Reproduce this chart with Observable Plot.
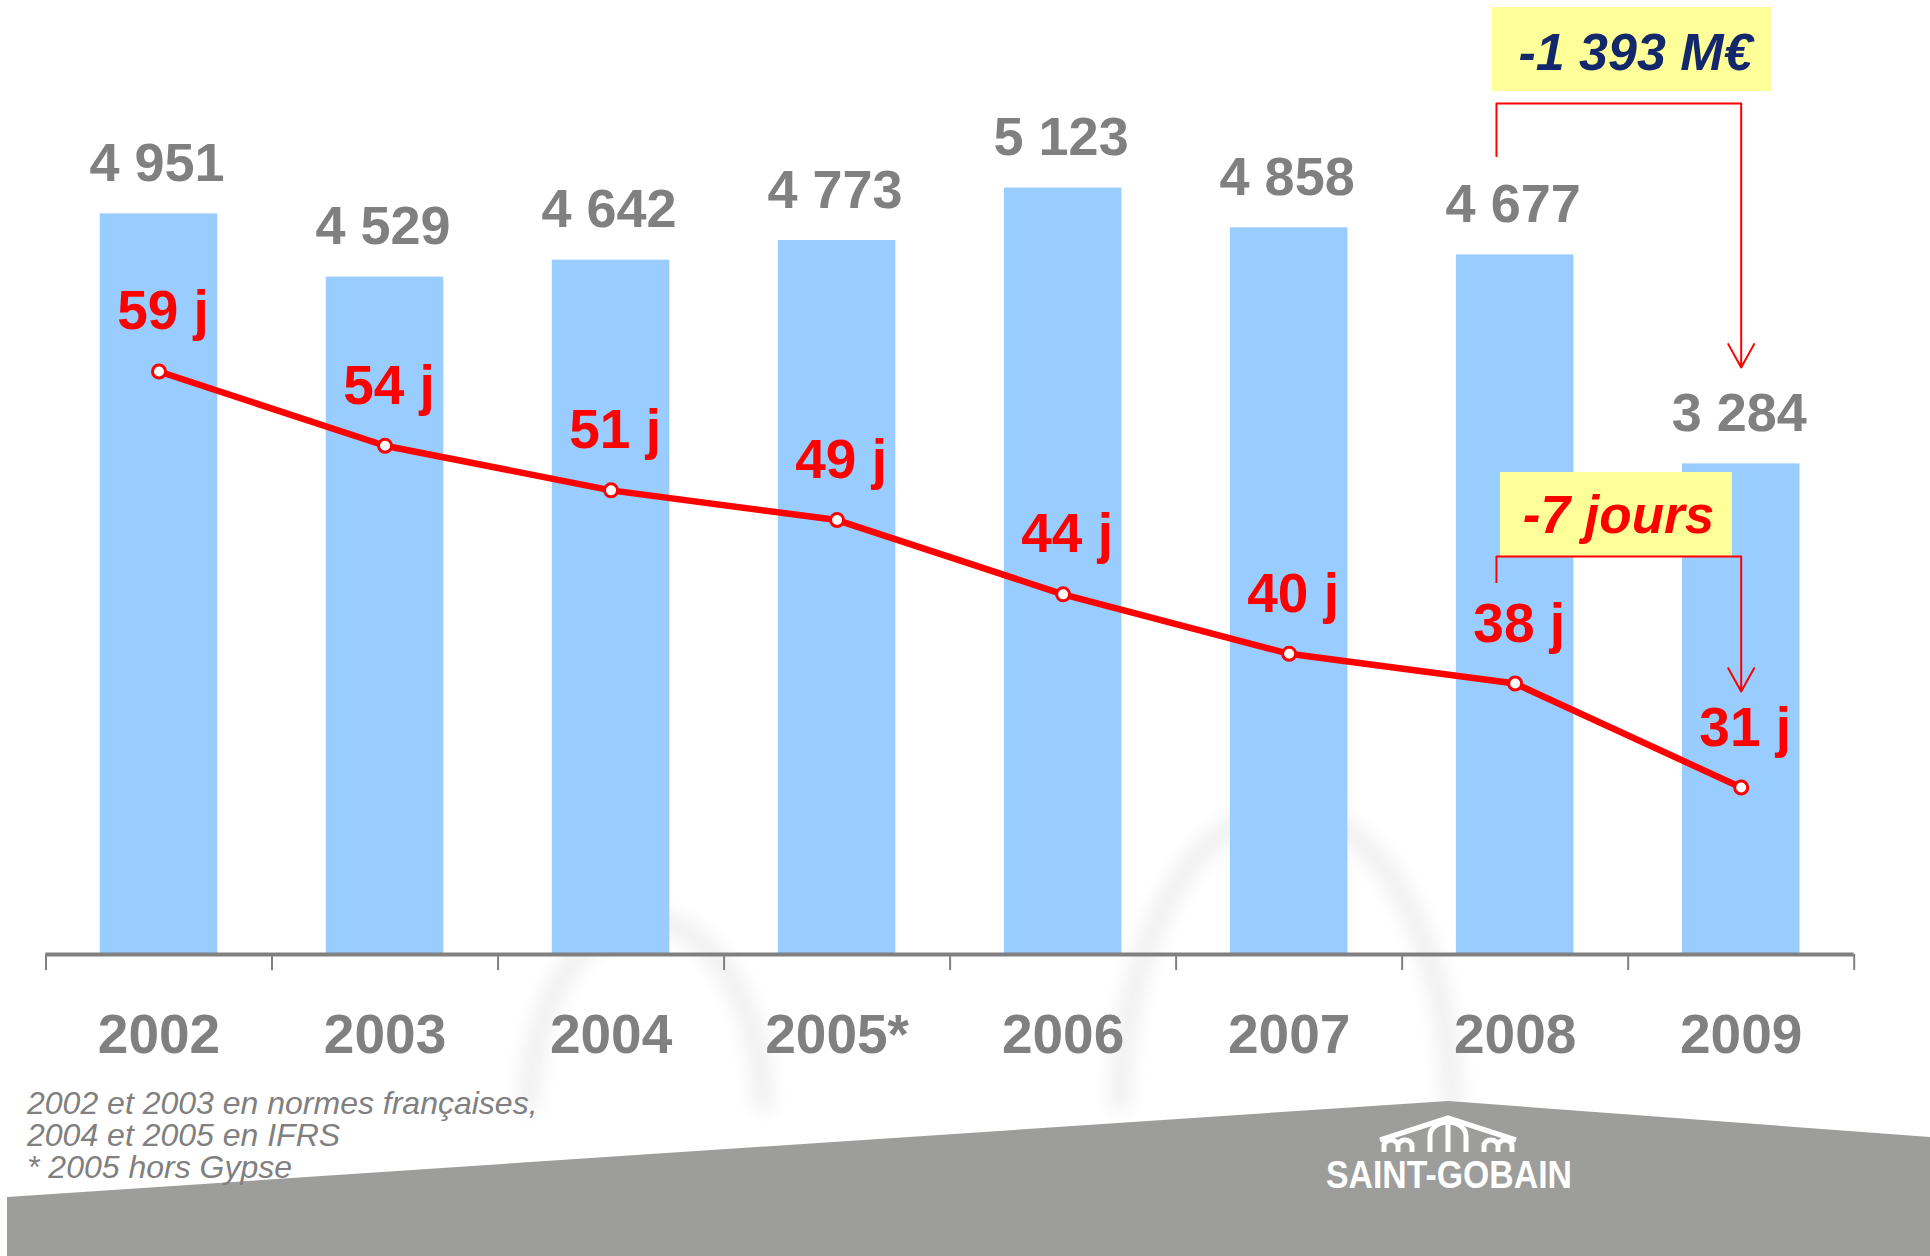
<!DOCTYPE html>
<html lang="fr">
<head>
<meta charset="utf-8">
<script src="https://cdn.jsdelivr.net/npm/d3@7"></script>
<script src="https://cdn.jsdelivr.net/npm/@observablehq/plot@0.6"></script>
<style>
html,body{margin:0;padding:0;background:#fff;}
#page{position:relative;width:1930px;height:1256px;overflow:hidden;background:#fff;}
.layer{position:absolute;left:0;top:0;width:1930px;height:1256px;}
</style>
</head>
<body>
<div id="page">
<svg class="layer" id="deco" width="1930" height="1256" viewBox="0 0 1930 1256">
  <defs>
    <filter id="blur" x="-30%" y="-30%" width="160%" height="160%"><feGaussianBlur stdDeviation="9"/></filter>
  </defs>
  <g filter="url(#blur)" fill="none" stroke="#efefef" stroke-width="20">
    <path d="M1120 1110 A166 300 0 0 1 1452 1110"/>
    <path d="M529 1110 A117 190 0 0 1 763 1110"/>
  </g>
  <polygon points="7,1197 1448,1101 1930,1137 1930,1256 7,1256" fill="#9d9d9b"/>
  <g fill="none" stroke="#fff" stroke-width="5">
    <path d="M1380 1140 L1448 1118 L1516 1140"/>
    <path d="M1384 1152 V1146 A7 6 0 0 1 1398 1146 V1152 M1398 1146 A7 6 0 0 1 1412 1146 V1152"/>
    <path d="M1430 1152 V1136 A18 14 0 0 1 1466 1136 V1152 M1448 1152 V1124"/>
    <path d="M1484 1152 V1146 A7 6 0 0 1 1498 1146 V1152 M1498 1146 A7 6 0 0 1 1512 1146 V1152"/>
  </g>
  <text x="1449" y="1188" text-anchor="middle" font-family="'Liberation Sans', Arial, sans-serif" font-weight="bold" font-size="39" fill="#fff" textLength="246" lengthAdjust="spacingAndGlyphs">SAINT-GOBAIN</text>
  <text id="notes" font-family="'Liberation Sans', Arial, sans-serif" font-style="italic" font-size="32" fill="#808080"></text>
</svg>
<div class="layer" id="bars"></div>
<div class="layer" id="days"></div>
</div>
<script>
// ---- data ----
const years = ["2002", "2003", "2004", "2005*", "2006", "2007", "2008", "2009"];
const bfr = [4951, 4529, 4642, 4773, 5123, 4858, 4677, 3284];   // M€
const jours = [59, 54, 51, 49, 44, 40, 38, 31];                  // jours
const ecartBfr = "-1 393 M€";
const ecartJours = "-7 jours";
const notes = ["2002 et 2003 en normes françaises,", "2004 et 2005 en IFRS", "* 2005 hors Gypse"];

const data = years.map((year, i) => ({year, bfr: bfr[i], jours: jours[i]}));

const W = 1930, H = 1256;
const FONT = "'Liberation Sans', Arial, Helvetica, sans-serif";
const RED = "#ff0000", GREY = "#808080", BLUE = "#99ccff", YELLOW = "#ffff99", NAVY = "#13286b";
const X0 = 45.5, X1 = 1853.7;
const step = (X1 - X0) / years.length;
const xScale = {type: "band", domain: years, range: [X0, X1], paddingInner: 0.48, paddingOuter: 0.24, round: false, axis: null};
const fmt = v => String(v).replace(/\B(?=(\d{3})+(?!\d))/g, " ");
const last = years[years.length - 1], prev = years[years.length - 2];
const style = {background: "transparent", overflow: "visible", fontFamily: FONT};

// footnote
const nt = document.getElementById("notes");
notes.forEach((s, i) => {
  const t = document.createElementNS("http://www.w3.org/2000/svg", "tspan");
  t.setAttribute("x", 27); t.setAttribute("y", 1114 + i * 32); t.textContent = s;
  nt.appendChild(t);
});

// ---- bars (BFR, M€) ----
const barsPlot = Plot.plot({
  width: W, height: H, marginLeft: X0, marginRight: W - X1, marginTop: 0, marginBottom: H - 956,
  style,
  x: xScale,
  y: {domain: [0, 6373.3], range: [956, 0], axis: null},
  marks: [
    Plot.barY(data, {x: "year", y: "bfr", fill: BLUE}),
    Plot.ruleY([0], {stroke: GREY, strokeWidth: 4, dy: -2}),
    Plot.ruleX(years, {x: d => d, y1: () => 0, y2: () => -107, dy: -2, dx: -step / 2, stroke: GREY, strokeWidth: 2}),
    Plot.ruleX([last], {x: d => d, y1: () => 0, y2: () => -107, dy: -2, dx: step / 2, stroke: GREY, strokeWidth: 2}),
    Plot.text(data, {x: "year", y: "bfr", text: d => fmt(d.bfr), dy: -33, dx: -2, lineAnchor: "bottom", fontSize: 54, fontWeight: "bold", fill: GREY}),
    Plot.text(data, {x: "year", y: () => 0, text: "year", dy: 96, lineAnchor: "bottom", fontSize: 55, fontWeight: "bold", fill: GREY}),
    // annotation -1 393 M€
    Plot.barY([ecartBfr], {x: () => last, y1: () => 5767, y2: () => 6327, insetLeft: -189.9, insetRight: 28.5, fill: YELLOW}),
    Plot.text([ecartBfr], {x: () => last, y: () => 5913, text: d => d, dx: -105.7, lineAnchor: "bottom", fontSize: 52, fontWeight: "bold", fontStyle: "italic", fill: NAVY}),
    Plot.ruleX([prev], {x: d => d, y1: () => 5327, y2: () => 5687, dx: -18.7, stroke: RED, strokeWidth: 2}),
    Plot.ruleY([5687], {y: d => d, x1: () => prev, x2: () => last, insetLeft: 40.3, insetRight: 58.5, stroke: RED, strokeWidth: 2}),
    Plot.arrow([ecartBfr], {x1: () => last, x2: () => last, y1: () => 5687, y2: () => 3927, stroke: RED, strokeWidth: 2, headLength: 20, headAngle: 58})
  ]
});
document.getElementById("bars").appendChild(barsPlot);

// ---- line (jours) ----
const daysPlot = Plot.plot({
  width: W, height: H, marginLeft: X0, marginRight: W - X1, marginTop: 0, marginBottom: 8.4,
  style,
  x: xScale,
  y: {domain: [0, 83.97], range: [1247.6, 0], axis: null},
  marks: [
    Plot.barY([ecartJours], {x: () => last, y1: () => 46.55, y2: () => 52.2, insetLeft: -181.9, insetRight: 67.5, fill: YELLOW}),
    Plot.text([ecartJours], {x: () => last, y: () => 48.1, text: d => d, dx: -122.7, lineAnchor: "bottom", fontSize: 53, fontWeight: "bold", fontStyle: "italic", fill: RED}),
    Plot.ruleX([prev], {x: d => d, y1: () => 44.73, y2: () => 46.55, dx: -18.7, stroke: RED, strokeWidth: 2}),
    Plot.ruleY([46.55], {y: d => d, x1: () => prev, x2: () => last, insetLeft: 40.3, insetRight: 58.5, stroke: RED, strokeWidth: 2}),
    Plot.arrow([ecartJours], {x1: () => last, x2: () => last, y1: () => 46.55, y2: () => 37.46, stroke: RED, strokeWidth: 2, headLength: 20, headAngle: 58}),
    Plot.lineY(data, {x: "year", y: "jours", stroke: RED, strokeWidth: 6.5}),
    Plot.dot(data, {x: "year", y: "jours", r: 6.5, fill: "#fff", stroke: RED, strokeWidth: 3}),
    Plot.text(data, {x: "year", y: "jours", text: d => `${d.jours} j`, dy: -42, dx: 4, lineAnchor: "bottom", fontSize: 55, fontWeight: "bold", fill: RED})
  ]
});
document.getElementById("days").appendChild(daysPlot);
</script>
</body>
</html>
